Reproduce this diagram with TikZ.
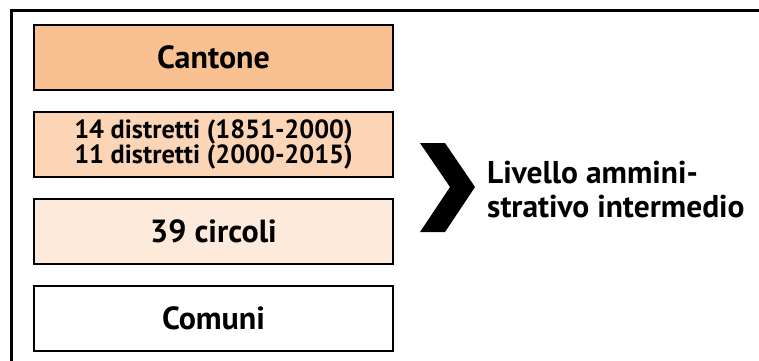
\documentclass[tikz,border=0pt]{standalone}
\usepackage{fontspec}
\setmainfont{PT Sans}
\usetikzlibrary{positioning}
\definecolor{cantcol}{HTML}{F9C091}
\definecolor{distcol}{HTML}{FBD5B6}
\definecolor{circcol}{HTML}{FDEADB}

\begin{document}
\begin{tikzpicture} [x=1pt,
    y=1pt,
    main node/.style={rectangle, fill = white, draw, line width = 2pt,
        align=center, outer sep = 0pt, inner sep = 0pt,
        minimum width = 359pt, minimum height = 65pt,
        font=\bfseries\fontsize{32}{34}\selectfont}
  ]

  \useasboundingbox (0, 0) rectangle (759, -360);
  \clip (0, 0) rectangle (759, -360);

  % outer frame, cut off at right and bottom
  \draw [line width = 3pt] (11.5, -400) |- (800, -10.5);

  \node [main node,
    fill = cantcol
  ] (cant) at (213.5, -57.5) {Cantone};

  \node [main node,
    fill = distcol,
    font = \bfseries\fontsize{26.3}{25}\selectfont,
    below = 22pt of cant
  ] (dist) {14 distretti (1851-2000)\\11 distretti (2000-2015)};

  \node [main node,
    fill = circcol,
    below = 22pt of dist
  ] (circ) {39 circoli};

  \node [main node,
    below = 22pt of circ
  ] (com) {Comuni};

  % chevron
  \fill (420, -143) -- (445, -143) -- (475, -187) -- (445, -232)
  -- (420, -232) -- (450, -187) -- cycle;

  \node [anchor = west, align = left, inner sep = 0pt,
    font = \bfseries\fontsize{31.5}{34}\selectfont
  ] (lvl) at (487, -190) {Livello ammini-\\strativo intermedio};

\end{tikzpicture}
\end{document}
